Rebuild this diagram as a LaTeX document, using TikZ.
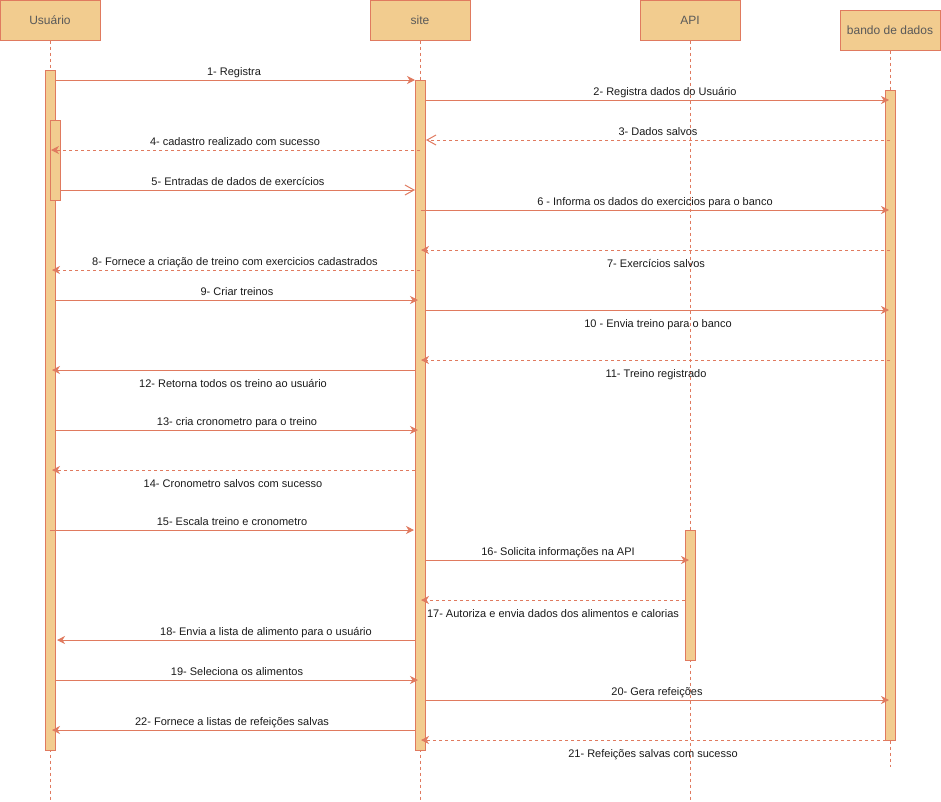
\documentclass[tikz,border=0pt]{standalone}
\usepackage{fontspec}
\setmainfont{Liberation Sans}
\usetikzlibrary{arrows.meta}
\definecolor{stk}{HTML}{E07A5F}
\definecolor{fil}{HTML}{F2CC8F}
\definecolor{hdrtxt}{HTML}{595959}
\definecolor{lbltxt}{HTML}{1A1A1A}
\newcommand\msg[8]{%
  \coordinate (#1a) at (#4,#3);
  \coordinate (#1b) at (#5,#3);
  \draw[#2] (#1a) -- (#1b);
  \node[lbl] (#1t) at (#6,#7) {#8};}
\begin{document}
\begin{tikzpicture}[x=1pt,y=-1pt,
  hdr/.style={draw=stk,fill=fil,line width=1pt,minimum width=100pt,minimum height=40pt,inner sep=0pt,
    font=\fontsize{12}{14}\selectfont,text=hdrtxt,text height=8.6pt,text depth=0pt},
  bar/.style={draw=stk,fill=fil,line width=1pt,minimum width=10pt,inner sep=0pt},
  life/.style={draw=stk,line width=0.9pt,dash pattern=on 3pt off 3pt},
  sync/.style={draw=stk,line width=1pt,-{Stealth[length=8pt,width=8pt,inset=2.5pt]}},
  ret/.style={draw=stk,line width=1pt,dash pattern=on 3pt off 3pt,-{Stealth[length=8pt,width=8pt,inset=2.5pt]}},
  opensync/.style={draw=stk,line width=1pt,-{Straight Barb[length=9pt,width=10pt]}},
  openret/.style={draw=stk,line width=1pt,dash pattern=on 3pt off 3pt,-{Straight Barb[length=9pt,width=10pt]}},
  lbl/.style={font=\fontsize{11}{13}\selectfont,text=lbltxt,inner sep=0pt,text height=8pt,text depth=0pt}]
\useasboundingbox (0,0) rectangle (941,801);
% headers
\node[hdr] (hU) at (50,20) {Usuário};
\node[hdr] (hS) at (420,20) {site};
\node[hdr] (hA) at (690,20) {API};
\node[hdr] (hB) at (890,30) {bando de dados};
% lifelines
\coordinate (eU) at (50,800);
\coordinate (eS) at (420,800);
\coordinate (eA) at (690,800);
\coordinate (eB) at (890,767);
\draw[life] (hU.south) -- (eU);
\draw[life] (hS.south) -- (eS);
\draw[life] (hA.south) -- (eA);
\draw[life] (hB.south) -- (eB);
% activation bars
\node[bar,minimum height=680pt] (bU) at (50,410) {};
\node[bar,minimum height=80pt] (bU2) at (55,160) {};
\node[bar,minimum height=670pt] (bS) at (420,415) {};
\node[bar,minimum height=650pt] (bB) at (890,415) {};
\node[bar,minimum height=130pt] (bA) at (690,595) {};
% messages
\msg{m1}{sync}{80}{55}{415}{234}{71}{1- Registra}
\msg{m2}{sync}{100}{426}{889}{665}{91}{2- Registra dados do Usuário}
\msg{m3}{openret}{140}{890}{426}{658}{131}{3- Dados salvos}
\msg{m4}{ret}{150}{420}{51}{235}{141}{4- cadastro realizado com sucesso}
\msg{m5}{opensync}{190}{60}{415}{238}{181}{5- Entradas de dados de exercícios}
\msg{m6}{sync}{210}{421}{889}{655}{201}{6 - Informa os dados do exercicios para o banco}
\msg{m7}{ret}{250}{890}{421}{656}{263}{7- Exercícios salvos}
\msg{m8}{ret}{270}{420}{52}{235}{261}{8- Fornece a criação de treino com exercicios cadastrados}
\msg{m9}{sync}{300}{55}{418}{237}{291}{9- Criar treinos}
\msg{m10}{sync}{310}{426}{889}{658}{323}{10 - Envia treino para o banco}
\msg{m11}{ret}{360}{890}{421}{656}{373}{11- Treino registrado}
\msg{m12}{sync}{370}{415}{52}{233}{383}{12- Retorna todos os treino ao usuário}
\msg{m13}{sync}{430}{55}{418}{237}{421}{13- cria cronometro para o treino}
\msg{m14}{ret}{470}{415}{52}{233}{483}{14- Cronometro salvos com sucesso}
\msg{m15}{sync}{530}{50}{414}{232}{521}{15- Escala treino e cronometro}
\msg{m16}{sync}{560}{425}{689}{558}{551}{16- Solicita informações na API}
\msg{m17}{ret}{600}{685}{421}{553}{613}{17- Autoriza e envia dados dos alimentos e calorias}
\msg{m18}{sync}{640}{415}{57}{266}{631}{18- Envia a lista de alimento para o usuário}
\msg{m19}{sync}{680}{55}{418}{237}{671}{19- Seleciona os alimentos}
\msg{m20}{sync}{700}{426}{889}{657}{691}{20- Gera refeições}
\msg{m21}{ret}{740}{886}{421}{653}{753}{21- Refeições salvas com sucesso}
\msg{m22}{sync}{730}{415}{52}{232}{721}{22- Fornece a listas de refeições salvas}
\end{tikzpicture}
\end{document}
